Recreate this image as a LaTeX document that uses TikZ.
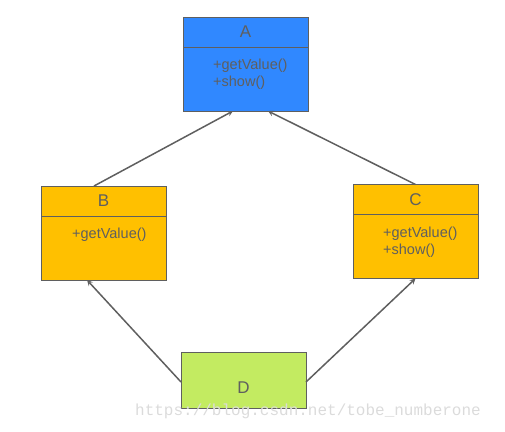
\documentclass[tikz,border=0pt]{standalone}
\usepackage{fontspec}
\setmainfont{Liberation Sans}
\newfontfamily\wmfont{Liberation Mono}
\usepackage{tikz}
\usetikzlibrary{shapes.geometric, arrows}
\usetikzlibrary{positioning}
\definecolor{boxline}{RGB}{95,95,95}
\definecolor{blueA}{RGB}{48,136,255}
\definecolor{goldB}{RGB}{255,192,0}
\definecolor{greenD}{RGB}{195,235,97}
\tikzstyle{classHead} = [rectangle, minimum width=125pt, minimum height=30pt, inner sep=0pt, outer sep=0pt, draw=boxline, line width=0.9pt, font=\fontsize{17}{17}\selectfont, text=boxline]
\tikzstyle{classBody} = [rectangle, minimum width=125pt, minimum height=64pt, inner sep=0pt, outer sep=0pt, draw=boxline, line width=0.9pt]
\tikzstyle{ops} = [inner sep=0pt, align=left, text=boxline, font=\fontsize{14.5}{17}\selectfont]
\tikzstyle{arrow} = [line width=1.5pt, draw=boxline, ->, >=stealth]

\begin{document}
\begin{tikzpicture}[x=1pt, y=-1pt]
                                \useasboundingbox (0,0) rectangle (505,431);
                                % class A
                                \node (Ahead) [classHead, fill=blueA] at (245.5,32) {A};
                                \node (Abody) [classBody, fill=blueA, below=0pt of Ahead] {};
                                \node (Aops) [ops, below right=12pt and 30pt of Abody.north west] {+getValue()\\+show()};
                                % class B
                                \node (Bhead) [classHead, fill=goldB] at (103.5,201) {B};
                                \node (Bbody) [classBody, fill=goldB, below=0pt of Bhead] {};
                                \node (Bops) [ops, below right=12pt and 31pt of Bbody.north west] {+getValue()};
                                % class C
                                \node (Chead) [classHead, fill=goldB] at (415.5,199.5) {C};
                                \node (Cbody) [classBody, fill=goldB, below=0pt of Chead] {};
                                \node (Cops) [ops, below right=12pt and 30pt of Cbody.north west] {+getValue()\\+show()};
                                % class D
                                \node (D) [classHead, fill=greenD, minimum height=56pt, text height=26pt, text depth=0pt] at (243.5,380) {D};
                                % inheritance
                                \draw [arrow] ([xshift=-9.5pt]Bhead.north) -- ([xshift=-12.5pt]Abody.south);
                                \draw [arrow] (Chead.north) -- ([xshift=22.5pt]Abody.south);
                                \draw [arrow] ([yshift=-2pt]D.west) -- ([xshift=-16.5pt]Bbody.south);
                                \draw [arrow] ([yshift=-2pt]D.east) -- (Cbody.south);
                                % watermark
                                \node (wm) [text=black!14, font=\wmfont\fontsize{16}{16}\selectfont, inner sep=0pt] at (308,411) {https://blog.csdn.net/tobe\_numberone};
                            \end{tikzpicture}
\end{document}
